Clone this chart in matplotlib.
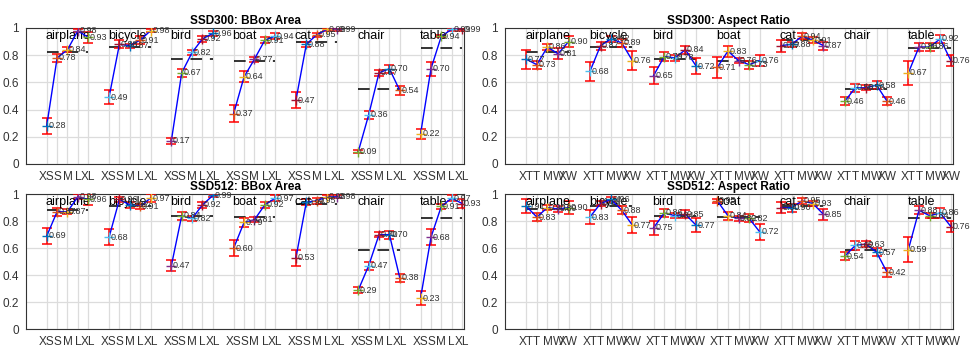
import matplotlib
matplotlib.use('Agg')
import matplotlib.pyplot as plt
import numpy as np

plt.rcParams['font.family'] = ['Liberation Sans', 'DejaVu Sans']

cats = ['airplane', 'bicycle', 'bird', 'boat', 'cat', 'chair', 'table']
area_ticks = ['XS', 'S', 'M', 'L', 'XL']
ar_ticks = ['XT', 'T', 'M', 'W', 'XW']

ssd300_area = [[0.28, 0.78, 0.84, 0.98, 0.93],
               [0.49, 0.88, 0.87, 0.91, 0.98],
               [0.17, 0.67, 0.82, 0.92, 0.96],
               [0.37, 0.64, 0.77, 0.91, 0.94],
               [0.47, 0.88, 0.95, 0.99, 0.99],
               [0.09, 0.36, 0.67, 0.70, 0.54],
               [0.22, 0.70, 0.94, 0.99, 0.99]]
ssd300_area_err = [[0.06, 0.03, 0.02, 0.01, 0.04],
                   [0.05, 0.03, 0.015, 0.03, 0.01],
                   [0.02, 0.03, 0.02, 0.02, 0.02],
                   [0.06, 0.04, 0.02, 0.02, 0.02],
                   [0.06, 0.02, 0.015, 0.01, 0.01],
                   [0.01, 0.03, 0.02, 0.03, 0.03],
                   [0.04, 0.05, 0.01, 0.01, 0.01]]
ssd300_area_avg = [0.82, 0.86, 0.77, 0.76, 0.90, 0.55, 0.85]

ssd300_ar = [[0.77, 0.73, 0.86, 0.81, 0.90],
             [0.68, 0.87, 0.92, 0.89, 0.76],
             [0.65, 0.79, 0.78, 0.84, 0.72],
             [0.71, 0.83, 0.76, 0.73, 0.76],
             [0.87, 0.88, 0.94, 0.91, 0.87],
             [0.46, 0.56, 0.56, 0.58, 0.46],
             [0.67, 0.86, 0.86, 0.92, 0.76]]
ssd300_ar_err = [[0.07, 0.03, 0.02, 0.04, 0.04],
                 [0.07, 0.03, 0.02, 0.03, 0.07],
                 [0.06, 0.03, 0.02, 0.03, 0.06],
                 [0.08, 0.04, 0.02, 0.03, 0.04],
                 [0.045, 0.02, 0.02, 0.02, 0.03],
                 [0.03, 0.03, 0.02, 0.03, 0.03],
                 [0.09, 0.03, 0.03, 0.03, 0.04]]
ssd300_ar_avg = [0.82, 0.86, 0.77, 0.76, 0.91, 0.55, 0.85]

ssd512_area = [[0.69, 0.87, 0.87, 0.98, 0.96],
               [0.68, 0.96, 0.92, 0.91, 0.97],
               [0.47, 0.84, 0.82, 0.92, 0.99],
               [0.60, 0.79, 0.81, 0.92, 0.97],
               [0.53, 0.94, 0.95, 0.98, 0.98],
               [0.29, 0.47, 0.70, 0.70, 0.38],
               [0.23, 0.68, 0.91, 0.97, 0.93]]
ssd512_area_err = [[0.06, 0.03, 0.02, 0.02, 0.04],
                   [0.06, 0.02, 0.02, 0.02, 0.03],
                   [0.04, 0.03, 0.02, 0.02, 0.01],
                   [0.06, 0.03, 0.02, 0.02, 0.02],
                   [0.06, 0.02, 0.02, 0.01, 0.01],
                   [0.02, 0.03, 0.02, 0.03, 0.03],
                   [0.05, 0.06, 0.02, 0.02, 0.03]]
ssd512_area_avg = [0.88, 0.91, 0.84, 0.83, 0.93, 0.59, 0.82]

ssd512_ar = [[0.91, 0.83, 0.90, 0.89, 0.90],
             [0.83, 0.93, 0.96, 0.88, 0.77],
             [0.75, 0.86, 0.84, 0.85, 0.77],
             [0.95, 0.84, 0.82, 0.82, 0.72],
             [0.90, 0.90, 0.95, 0.93, 0.85],
             [0.54, 0.62, 0.63, 0.57, 0.42],
             [0.59, 0.88, 0.84, 0.86, 0.76]]
ssd512_ar_err = [[0.05, 0.03, 0.02, 0.02, 0.05],
                 [0.05, 0.02, 0.02, 0.03, 0.06],
                 [0.05, 0.03, 0.02, 0.03, 0.05],
                 [0.015, 0.03, 0.02, 0.03, 0.06],
                 [0.04, 0.03, 0.02, 0.02, 0.04],
                 [0.03, 0.03, 0.02, 0.03, 0.03],
                 [0.09, 0.03, 0.02, 0.04, 0.04]]
ssd512_ar_avg = [0.89, 0.91, 0.84, 0.83, 0.91, 0.59, 0.82]

palette = ['#0072BD', '#D95319', '#EDB120', '#7E2F8E', '#77AC30', '#4DBEEE', '#A2142F']


def draw_panel(ax, title, vals, errs, avgs, ticklabels):
    xt = []
    xl = []
    for g, name in enumerate(cats):
        xs = np.arange(5) + g * 6
        ys = vals[g]
        ax.plot([xs[0], xs[-1]], [avgs[g], avgs[g]], color='k', lw=1.4,
                ls=(0, (6, 4)), alpha=0.8, zorder=2)
        ax.errorbar(xs, ys, yerr=errs[g], fmt='none', ecolor='red', elinewidth=1.1,
                    capsize=3.5, capthick=1.1, zorder=3)
        ax.plot(xs, ys, color='blue', lw=1, zorder=4)
        for i in range(5):
            ax.plot(xs[i], ys[i], marker='+', ms=7.5, mew=1,
                    color=palette[(g * 5 + i) % 7], zorder=5)
            ax.text(xs[i] + 0.15, ys[i], '%.2f' % ys[i], fontsize=6.5,
                    color='#333333', va='center', ha='left', zorder=6)
        ax.text(xs[0] - 0.1, 0.94, name, fontsize=9, va='center', ha='left')
        xt.extend(xs)
        xl.extend(ticklabels)
    ax.set_xticks(xt)
    ax.set_xticklabels(xl, fontsize=8.5, color='#333333')
    ax.set_xlim(-2, 40.2)
    ax.set_ylim(0, 1)
    ax.set_yticks([0, 0.2, 0.4, 0.6, 0.8, 1])
    ax.set_yticklabels(['0', '0.2', '0.4', '0.6', '0.8', '1'], fontsize=8.5, color='#333333')
    ax.tick_params(length=0, pad=5)
    ax.grid(color='#dcdcdc', lw=0.9, zorder=0)
    ax.set_axisbelow(True)
    for s in ax.spines.values():
        s.set_color('#333333')
    ax.set_title(title, fontsize=8.5, fontweight='bold', pad=3)


fig = plt.figure(figsize=(9.76, 3.54), dpi=100)
ax1 = fig.add_axes([0.0266, 0.537, 0.449, 0.384])
ax2 = fig.add_axes([0.5174, 0.537, 0.459, 0.384])
ax3 = fig.add_axes([0.0266, 0.0698, 0.449, 0.382])
ax4 = fig.add_axes([0.5174, 0.0698, 0.459, 0.382])

draw_panel(ax1, 'SSD300: BBox Area', ssd300_area, ssd300_area_err, ssd300_area_avg, area_ticks)
draw_panel(ax2, 'SSD300: Aspect Ratio', ssd300_ar, ssd300_ar_err, ssd300_ar_avg, ar_ticks)
draw_panel(ax3, 'SSD512: BBox Area', ssd512_area, ssd512_area_err, ssd512_area_avg, area_ticks)
draw_panel(ax4, 'SSD512: Aspect Ratio', ssd512_ar, ssd512_ar_err, ssd512_ar_avg, ar_ticks)

fig.savefig('out.png', dpi=100)
